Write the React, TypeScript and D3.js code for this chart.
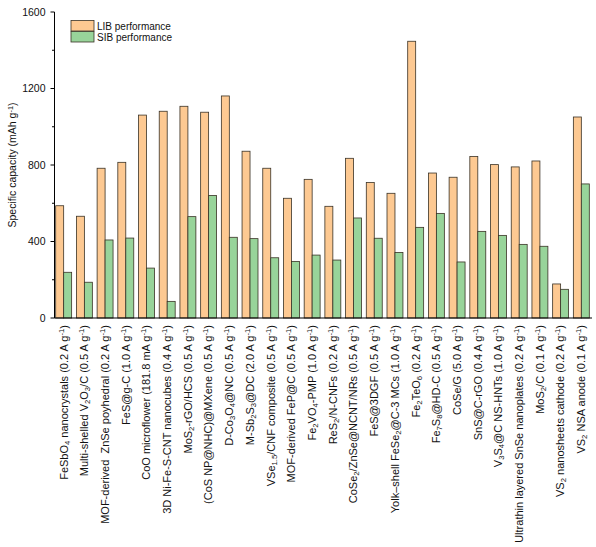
import React from 'react';
import * as d3 from 'd3';

// Labels use _{..} for subscript and ^{..} for superscript
const categories: string[] = [
  'FeSbO_{4} nanocrystals (0.2 A g^{-1})',
  'Multi-shelled V_{2}O_{3}/C (0.5 A g^{-1})',
  'MOF-derived\u00a0 ZnSe poyhedral (0.2 A g^{-1})',
  'FeS@g-C (1.0 A g^{-1})',
  'CoO microflower (181.8 mA g^{-1})',
  '3D Ni-Fe-S-CNT nanocubes (0.4 A g^{-1})',
  'MoS_{2}-rGO/HCS (0.5 A g^{-1})',
  '(CoS NP@NHC)@MXene (0.5 A g^{-1})',
  'D-Co_{3}O_{4}@NC (0.5 A g^{-1})',
  'M-Sb_{2}S_{3}@DC (2.0 A g^{-1})',
  'VSe_{1.5}/CNF composite (0.5 A g^{-1})',
  'MOF-derived FeP@C (0.5 A g^{-1})',
  'Fe_{2}VO_{4}-PMP (1.0 A g^{-1})',
  'ReS_{2}/N-CNFs (0.2 A g^{-1})',
  'CoSe_{2}/ZnSe@NCNT/NRs (0.5 A g^{-1})',
  'FeS@3DGF (0.5 A g^{-1})',
  'Yolk\u2013shell FeSe_{2}@C-3 MCs (1.0 A g^{-1})',
  'Fe_{2}TeO_{6} (0.2 A g^{-1})',
  'Fe_{7}S_{8}@HD-C (0.5 A g^{-1})',
  'CoSe/G (5.0 A g^{-1})',
  'SnS@C-rGO (0.4 A g^{-1})',
  'V_{3}S_{4}@C NS-HNTs (1.0 A g^{-1})',
  'Ultrathin layered SnSe nanoplates (0.2 A g^{-1})',
  'MoS_{2}/C (0.1 A g^{-1})',
  'VS_{2} nanosheets cathode (0.2 A g^{-1})',
  'VS_{2} NSA anode (0.1 A g^{-1})',
];

const libValues: number[] = [
  587, 532, 783, 814, 1061, 1081, 1107, 1076, 1161, 872, 783, 626, 725,
  584, 835, 708, 652, 1447, 758, 736, 845, 802, 790, 821, 178, 1051,
];

const sibValues: number[] = [
  239, 187, 408, 418, 261, 87, 530, 641, 422, 415, 315, 296, 329,
  303, 523, 417, 343, 474, 547, 293, 453, 432, 385, 375, 150, 701,
];

const seriesNames = ['LIB performance', 'SIB performance'];
const yTicks = [0, 400, 800, 1200, 1600];
const yMinorTicks = [200, 600, 1000, 1400];

const WIDTH = 596;
const HEIGHT = 547;
const FONT = 'Arial, "Liberation Sans", Helvetica, sans-serif';
const COLORS = ['#fdc992', '#98d49a'];
const STROKE = '#3a3226';

function renderRich(label: string, size: number) {
  const parts: React.ReactNode[] = [];
  const re = /([_^])\{([^}]*)\}/g;
  let last = 0;
  let m: RegExpExecArray | null;
  let k = 0;
  while ((m = re.exec(label)) !== null) {
    if (m.index > last) parts.push(<tspan key={k++}>{label.slice(last, m.index)}</tspan>);
    const isSub = m[1] === '_';
    parts.push(
      <tspan key={k++} fontSize={size * 0.7} baselineShift={isSub ? '-25%' : '45%'}>
        {m[2]}
      </tspan>
    );
    last = m.index + m[0].length;
  }
  if (last < label.length) parts.push(<tspan key={k++}>{label.slice(last)}</tspan>);
  return parts;
}

export default function App() {
  const x0 = 54.5;
  const x1 = 592;
  const yTop = 12;
  const yBottom = 318;

  const x = d3.scaleBand<string>()
    .domain(categories)
    .range([55.7, 589.3])
    .paddingInner(0.23)
    .paddingOuter(0);

  const y = d3.scaleLinear().domain([0, 1600]).range([yBottom, yTop]);
  const barW = x.bandwidth() / 2;

  return (
    <>
      <style>{`body{margin:0}`}</style>
      <svg width={WIDTH} height={HEIGHT} fontFamily={FONT} style={{ display: 'block', background: '#fff' }}>
        {/* bars */}
        {categories.map((c, i) => (
          <g key={c}>
            <rect
              x={x(c)!}
              y={y(libValues[i])}
              width={barW}
              height={y(0) - y(libValues[i])}
              fill={COLORS[0]}
              stroke={STROKE}
              strokeWidth={0.8}
            />
            <rect
              x={x(c)! + barW}
              y={y(sibValues[i])}
              width={barW}
              height={y(0) - y(sibValues[i])}
              fill={COLORS[1]}
              stroke={STROKE}
              strokeWidth={0.8}
            />
          </g>
        ))}

        {/* y axis */}
        <line x1={x0} x2={x0} y1={yTop} y2={yBottom} stroke="#000" strokeWidth={1} />
        {yTicks.map((t) => (
          <g key={t}>
            <line x1={x0 - 4} x2={x0} y1={y(t)} y2={y(t)} stroke="#000" strokeWidth={1} />
            <text x={x0 - 9} y={y(t)} dy="0.35em" textAnchor="end" fontSize={10.5} fill="#111">
              {t}
            </text>
          </g>
        ))}
        {yMinorTicks.map((t) => (
          <line key={t} x1={x0 - 2.5} x2={x0} y1={y(t)} y2={y(t)} stroke="#000" strokeWidth={1} />
        ))}
        <text
          transform={`translate(12,${(yTop + yBottom) / 2}) rotate(-90)`}
          textAnchor="middle"
          dy="0.35em"
          fontSize={10.5}
          fill="#111"
        >
          {renderRich('Specific capacity (mAh g^{-1})', 10.5)}
        </text>

        {/* x axis */}
        <line x1={x0} x2={x1} y1={yBottom} y2={yBottom} stroke="#000" strokeWidth={1.2} />
        {categories.map((c) => (
          <text
            key={c}
            transform={`translate(${x(c)! + x.bandwidth() / 2},${yBottom + 7}) rotate(-90)`}
            textAnchor="end"
            dy="0.35em"
            fontSize={11}
            fill="#111"
          >
            {renderRich(c, 11)}
          </text>
        ))}

        {/* legend */}
        {seriesNames.map((s, i) => (
          <g key={s} transform={`translate(71,${20.5 + i * 11})`}>
            <rect width={23} height={10.5} fill={COLORS[i]} stroke={STROKE} strokeWidth={0.8} />
            <text x={26} y={5.5} dy="0.35em" fontSize={10} fill="#111">
              {s}
            </text>
          </g>
        ))}
      </svg>
    </>
  );
}
